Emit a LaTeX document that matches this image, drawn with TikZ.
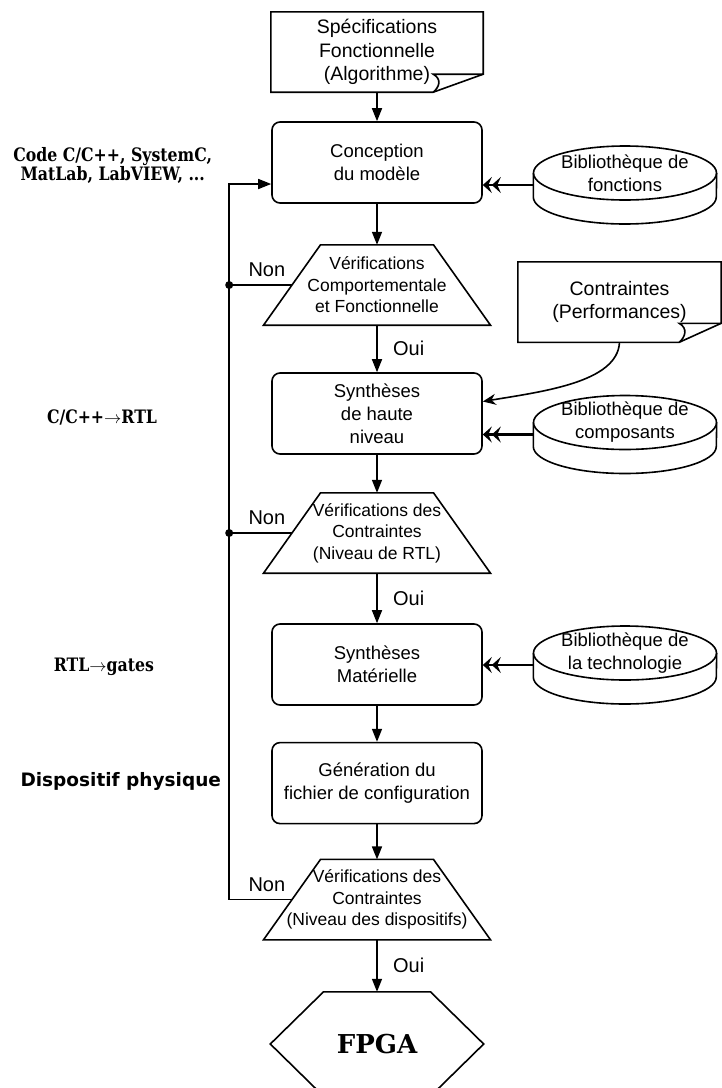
\documentclass[tikz,border=0pt]{standalone}
\usepackage{fontspec}
\setmainfont{Liberation Sans}
\newfontfamily\serifbold{DejaVu Serif}[FakeStretch=0.85]
\newfontfamily\serifwide{DejaVu Serif}
\newfontfamily\sansbold{DejaVu Sans}
\usepackage{tikz}
\usetikzlibrary{arrows.meta,positioning}

\newcommand{\boxfont}{\fontsize{18.5}{23}\selectfont}
\newcommand{\docfont}{\fontsize{19.5}{23.5}\selectfont}
\newcommand{\verifont}{\fontsize{17.5}{21.5}\selectfont}
\newcommand{\answerfont}{\fontsize{20}{24}\selectfont}
\newcommand{\codefont}{\serifbold\bfseries\fontsize{18.5}{19}\selectfont}
\newcommand{\dispfont}{\sansbold\bfseries\fontsize{18.5}{22}\selectfont}
\newcommand{\fpgafont}{\serifwide\bfseries\fontsize{26}{30}\selectfont}
\newcommand{\into}{\ensuremath{\rightarrow}}

\tikzstyle{stage}=[draw,line width=1.6pt,rounded corners=8pt,minimum width=210pt,minimum height=81pt,align=center,font=\boxfont]
\tikzstyle{docnode}=[minimum width=212pt,minimum height=80pt,align=center,font=\docfont]
\tikzstyle{verif}=[minimum width=170pt,minimum height=80pt,inner sep=0pt,align=center,font=\verifont]
\tikzstyle{biblio}=[minimum width=183pt,minimum height=54pt,inner sep=0pt,align=center,font=\boxfont]
\tikzstyle{side}=[inner sep=0pt,align=center]
\tikzstyle{dot}=[circle,fill,inner sep=0pt,minimum size=8pt]
\tikzstyle{answer}=[right,xshift=12pt,font=\answerfont]
\tikzstyle{flow}=[line width=1.6pt,-{Triangle[length=13pt,width=10pt]}]
\tikzstyle{feed}=[line width=2.6pt,-{Stealth[length=9pt,width=16pt,inset=3.5pt]Stealth[length=9pt,width=16pt,inset=3.5pt]}]

% sheet with a curled corner: node, flap width, flap height
\newcommand{\docshape}[3]{%
  \draw[line width=1.6pt] (#1.north west) -- (#1.north east) -- ([yshift=#3]#1.south east)
    -- ([xshift=-#2]#1.south east) -- (#1.south west) -- cycle;
  \draw[line width=1.6pt] ([yshift=#3]#1.south east) -- ([xshift=-#2,yshift=#3]#1.south east)
    .. controls +(9pt,-5pt) and +(6pt,5pt) .. ([xshift=-#2]#1.south east);}
% check box: trapezium around the text
\newcommand{\trapeze}[1]{%
  \draw[line width=1.6pt] ([xshift=-56.5pt]#1.north) -- ([xshift=56.5pt]#1.north)
    -- ([xshift=113.5pt]#1.south) -- ([xshift=-113.5pt]#1.south) -- cycle;
  \coordinate (#1l) at ([xshift=-85pt]#1.center);}
% library drum
\newcommand{\libshape}[1]{%
  \draw[line width=1.6pt] (#1.center) ellipse [x radius=91.5pt,y radius=27pt];
  \draw[line width=1.6pt] (#1.west) -- ++(0,-24pt)
    arc[start angle=180,end angle=360,x radius=91.5pt,y radius=27pt] -- (#1.east);
  \coordinate (#1s) at ([yshift=-12pt]#1.west);}

\begin{document}
\begin{tikzpicture}[x=1pt,y=1pt]
\path[fill=white,use as bounding box] (0,0) rectangle (721,-1088);

% design flow
\node [docnode] (spec) at (377,-52) {Spécifications\\Fonctionnelle\\(Algorithme)};
\node [stage,below=29pt of spec] (conc) {Conception\\du modèle};
\node [verif,below=41pt of conc] (v1) {Vérifications\\Comportementale\\et Fonctionnelle};
\node [stage,below=47pt of v1] (synth) {Synthèses\\de haute\\niveau};
\node [verif,below=38pt of synth] (v2) {Vérifications des\\Contraintes\\(Niveau de RTL)};
\node [stage,below=50pt of v2] (mat) {Synthèses\\Matérielle};
\node [stage,below=36pt of mat] (gen) {Génération du\\fichier de configuration};
\node [verif,below=35pt of gen] (v3) {Vérifications des\\Contraintes\\(Niveau des dispositifs)};
\node [inner sep=0pt,minimum width=213pt,minimum height=104pt,font=\fpgafont,below=52pt of v3] (fpga) {FPGA};

% libraries and constraints
\node [biblio,right=50.5pt of conc,yshift=-10.5pt] (lib1) {Bibliothèque de\\fonctions};
\node [biblio,right=50.5pt of synth,yshift=-9pt] (lib2) {Bibliothèque de\\composants};
\node [biblio,right=50.5pt of mat,yshift=11.5pt] (lib3) {Bibliothèque de\\la technologie};
\node [docnode,minimum width=203pt,above=53pt of lib2,xshift=-5.5pt] (perf) {Contraintes\\(Performances)};

% levels
\node [side,font=\codefont,left=59pt of conc,yshift=-2.5pt] (code) {Code C/C++, SystemC,\\MatLab, LabVIEW, ...};
\node [side,font=\codefont,left=114pt of synth,yshift=-4pt] (hls) {C/C++\into RTL};
\node [side,font=\codefont,left=117pt of mat,yshift=-2.5pt] (gates) {RTL\into gates};
\node [side,font=\dispfont,left=50pt of gen,yshift=1.5pt] (phys) {Dispositif physique};

\docshape{spec}{50pt}{18pt}
\docshape{perf}{42pt}{19pt}
\trapeze{v1}
\trapeze{v2}
\trapeze{v3}
\libshape{lib1}
\libshape{lib2}
\libshape{lib3}
\draw[line width=1.6pt] ([xshift=-53.5pt]fpga.north) -- ([xshift=53.5pt]fpga.north) -- (fpga.east)
  -- ([xshift=53.5pt]fpga.south) -- ([xshift=-53.5pt]fpga.south) -- (fpga.west) -- cycle;

\draw[flow] (spec) -- (conc);
\draw[flow] (conc) -- (v1);
\draw[flow] (v1) -- node[answer]{Oui} (synth);
\draw[flow] (synth) -- (v2);
\draw[flow] (v2) -- node[answer]{Oui} (mat);
\draw[flow] (mat) -- (gen);
\draw[flow] (gen) -- (v3);
\draw[flow] (v3) -- node[answer]{Oui} (fpga);

% back to the model when a check fails
\coordinate (entry) at ([yshift=-21.5pt]conc.west);
\coordinate (loop) at ([xshift=-42pt]entry);
\draw[flow] (v3l) -- node[pos=0.4,above,yshift=4pt,font=\answerfont]{Non} (v3l -| loop) -- (loop) -- (entry);
\draw[line width=1.6pt] (v1l) -- node[pos=0.4,above,yshift=4pt,font=\answerfont]{Non} (v1l -| loop) node[dot]{};
\draw[line width=1.6pt] (v2l) -- node[pos=0.4,above,yshift=4pt,font=\answerfont]{Non} (v2l -| loop) node[dot]{};

\draw[line width=1.6pt,-{Stealth[length=13pt,width=11pt]}] (perf.south)
  .. controls +(-2,-40) and +(60,10) .. ([yshift=12pt]synth.east);
\draw[feed] (lib1s) -- (lib1s -| conc.east);
\draw[feed] (lib2s) -- (lib2s -| synth.east);
\draw[feed] (lib3s) -- (lib3s -| mat.east);
\end{tikzpicture}
\end{document}
